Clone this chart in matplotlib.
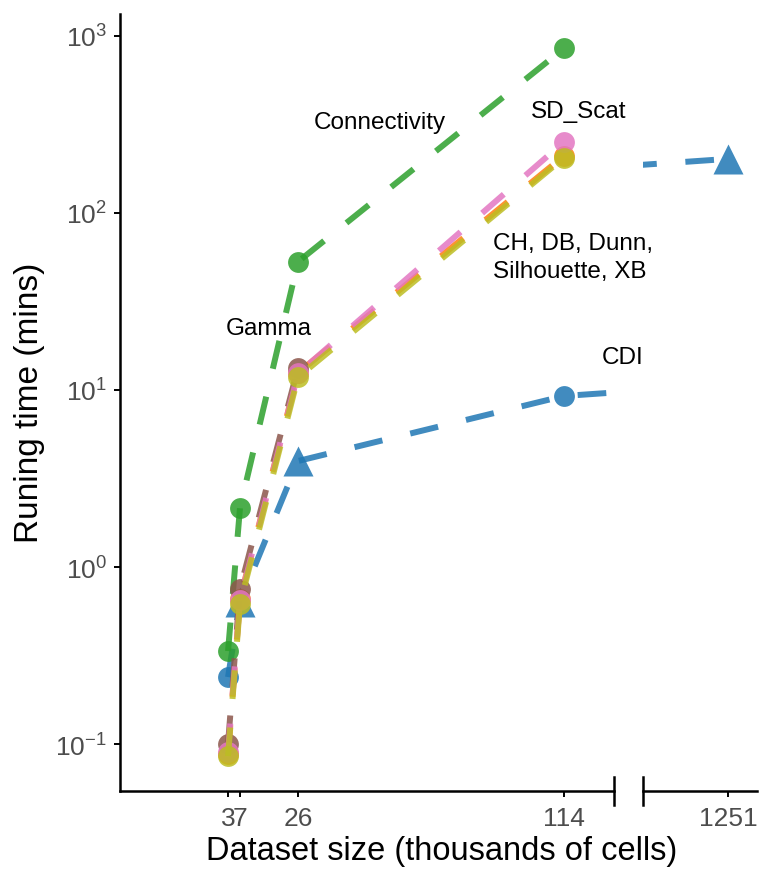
import numpy as np
import matplotlib
matplotlib.use("Agg")
import matplotlib.pyplot as plt

plt.rcParams['font.family'] = ['Liberation Sans', 'DejaVu Sans']

# dataset sizes (thousands of cells)
sizes = np.array([2.85, 6.8, 26, 114, 1251])
tick_labels = ["3", "7", "26", "114", "1251"]

# running time in minutes, nan = not run
cdi = np.array([0.239, 0.634, 3.97, 9.25, 202])
cdi_shape = ["o", "^", "^", "o", "^"]
ch = np.array([0.088, 0.66, 12.5, 210, np.nan])
connectivity = np.array([0.335, 2.15, 53, 850, np.nan])
gamma = np.array([0.1, 0.75, 13.3, np.nan, np.nan])
sd_scat = np.array([0.09, 0.65, 12.4, 252, np.nan])
xb = np.array([0.0855, 0.618, 11.8, 205, np.nan])

series = [
    (cdi, "#1f77b4", cdi_shape),
    (ch, "#ff7f0e", None),
    (connectivity, "#2ca02c", None),
    (gamma, "#8c564b", None),
    (sd_scat, "#e377c2", None),
    (xb, "#bcbd22", None),
]

W, H = 759, 870
fig = plt.figure(figsize=(W / 100, H / 100), dpi=100)

x0, x_brk1, x_brk2, x1 = 120, 613.5, 643, 757
y_top, y_bot = 15, 792
ax = fig.add_axes([x0 / W, 1 - y_bot / H, (x_brk1 - x0) / W, (y_bot - y_top) / H])
ax2 = fig.add_axes([x_brk2 / W, 1 - y_bot / H, (x1 - x_brk2) / W, (y_bot - y_top) / H])
ax2.patch.set_visible(False)


def draw(a):
    for vals, col, shapes in series:
        ok = ~np.isnan(vals)
        a.plot(sizes[ok], vals[ok], color=col, lw=4.3, alpha=0.85,
               linestyle=(0, (4.8, 4.8)))
        if shapes is None:
            a.plot(sizes[ok], vals[ok], 'o', ms=15, color=col, alpha=0.85,
                   mec='none')
        else:
            for m in set(shapes):
                sel = np.array([s == m for s in shapes]) & ok
                a.plot(sizes[sel], vals[sel], m, ms=15 if m == "o" else 21,
                       color=col, alpha=0.85, mec='none')


draw(ax)
draw(ax2)

for a in (ax, ax2):
    a.set_yscale('log')
    a.set_ylim(0.0543, 1330)
    a.spines['top'].set_visible(False)
    a.spines['right'].set_visible(False)
    a.spines['bottom'].set_linewidth(1.8)
    a.spines['left'].set_linewidth(1.8)
    a.tick_params(axis='both', which='major', length=4.5, width=1.4,
                  labelsize=19, labelcolor='#4D4D4D')
    a.tick_params(axis='x', pad=6)
    a.tick_params(axis='y', pad=5)
    a.tick_params(axis='y', which='minor', length=0)
    a.set_xticks(sizes)
    a.set_xticklabels(tick_labels)

ax.set_xlim(-32.9, 130.4)
ax2.set_xlim(1222.9, 1260.6)
ax.set_yticks([0.1, 1, 10, 100, 1000])
ax2.spines['left'].set_visible(False)
ax2.tick_params(axis='y', which='both', left=False, labelleft=False)

# axis break marks
for a, xpos in ((ax, 1), (ax2, 0)):
    a.plot([xpos, xpos], [-0.018, 0.018], transform=a.transAxes,
           color='black', lw=1.8, clip_on=False)

# annotations
tk = dict(fontsize=17.5, color='black')
ax.text(53.1, 327, "Connectivity", ha='center', va='center', **tk)
ax.text(119, 377, "SD_Scat", ha='center', va='center', **tk)
ax.text(90.5, 56.4, "CH, DB, Dunn,\nSilhouette, XB", ha='left', va='center',
        linespacing=1.3, **tk)
ax.text(16.4, 22.4, "Gamma", ha='center', va='center', **tk)
ax.text(133.5, 15.4, "CDI", ha='center', va='center', **tk)

fig.text(442 / W, 1 - 852 / H, "Dataset size (thousands of cells)",
         ha='center', va='center', fontsize=23.5)
fig.text(30 / W, 1 - 403 / H, "Runing time (mins)", ha='center', va='center',
         rotation=90, fontsize=24)

fig.savefig("out.png", dpi=100)
